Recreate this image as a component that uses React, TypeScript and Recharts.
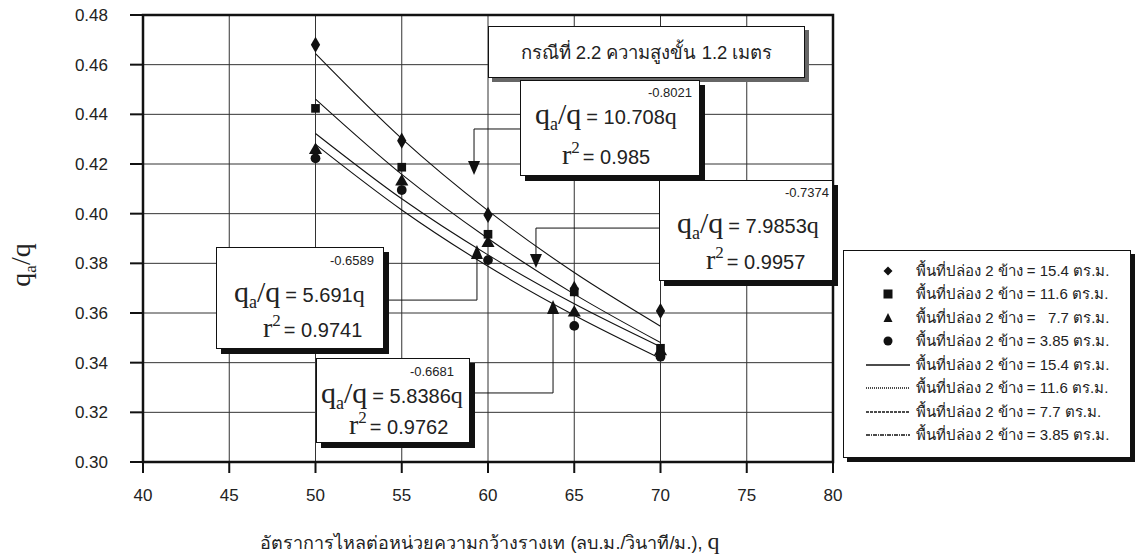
import React from "react";
import {
  CartesianGrid,
  ComposedChart,
  Line,
  ReferenceArea,
  ReferenceDot,
  ReferenceLine,
  Scatter,
  XAxis,
  YAxis,
  ZAxis,
} from "recharts";

// q (ลบ.ม./วินาที/ม.)
const Q = [50, 55, 60, 65, 70];

// measured points, one array per opening area
const P154 = [0.468, 0.4294, 0.3995, 0.3697, 0.3608];
const P116 = [0.4424, 0.4187, 0.3917, 0.3685, 0.3458];
const P77 = [0.4256, 0.4129, 0.3881, 0.3601, 0.3445];
const P385 = [0.4223, 0.4095, 0.3813, 0.3548, 0.3424];

// trend lines
const F154 = [0.4644, 0.4302, 0.4012, 0.3763, 0.3547];
const F116 = [0.4461, 0.4158, 0.39, 0.3676, 0.3481];
const F77 = [0.4323, 0.406, 0.3834, 0.3637, 0.3464];
const F385 = [0.4279, 0.4015, 0.3788, 0.3591, 0.3417];

const X_TICKS = [40, 45, 50, 55, 60, 65, 70, 75, 80];
const Y_TICKS = [0.3, 0.32, 0.34, 0.36, 0.38, 0.4, 0.42, 0.44, 0.46, 0.48];

// annotation connectors (data coords): box edge x, elbow x, horizontal y, arrow y
const CONN_BOX_X = [61.86, 69.91, 53.97, 58.96];
const CONN_ELBOW_X = [59.19, 62.78, 59.36, 63.77];
const CONN_Y = [0.4341, 0.3942, 0.3652, 0.3278];
const ARROW_Y = [0.4184, 0.3809, 0.3846, 0.3624];
const ARROW_DIR = ["down", "down", "up", "up"];

// fitted equations shown in the boxes
const EQ_COEF = ["10.708", "7.9853", "5.691", "5.8386"];
const EQ_EXP = ["-0.8021", "-0.7374", "-0.6589", "-0.6681"];
const EQ_R2 = ["0.985", "0.9957", "0.9741", "0.9762"];

const LEGEND_LABELS = [
  "พื้นที่ปล่อง 2 ข้าง = 15.4 ตร.ม.",
  "พื้นที่ปล่อง 2 ข้าง = 11.6 ตร.ม.",
  "พื้นที่ปล่อง 2 ข้าง =   7.7 ตร.ม.",
  "พื้นที่ปล่อง 2 ข้าง = 3.85 ตร.ม.",
  "พื้นที่ปล่อง 2 ข้าง = 15.4 ตร.ม.",
  "พื้นที่ปล่อง 2 ข้าง = 11.6 ตร.ม.",
  "พื้นที่ปล่อง 2 ข้าง = 7.7 ตร.ม.",
  "พื้นที่ปล่อง 2 ข้าง = 3.85 ตร.ม.",
];

const rows = Q.map((q, i) => ({
  q,
  p154: P154[i],
  p116: P116[i],
  p77: P77[i],
  p385: P385[i],
  f154: F154[i],
  f116: F116[i],
  f77: F77[i],
  f385: F385[i],
}));

const INK = "#111";
const TEXT = "#222";
const SANS = "'Liberation Sans', Arial, Helvetica, sans-serif";
const SERIF = "'Liberation Serif', 'Times New Roman', serif";

// box geometry (px) and text placement inside each box
const BOXES = [
  { left: 520, top: 80, w: 180, h: 96, expX: 172, expY: 17, eqX: 15, eqY: 44, rX: 42, rY: 84 },
  { left: 659, top: 180, w: 174, h: 101, expX: 170, expY: 17, eqX: 18, eqY: 53, rX: 47, rY: 89 },
  { left: 216, top: 247, w: 168, h: 102, expX: 158, expY: 18, eqX: 18, eqY: 55, rX: 47, rY: 90 },
  { left: 316, top: 358, w: 154, h: 85, expX: 138, expY: 18, eqX: 5, eqY: 45, rX: 33, rY: 76 },
];

function Arrow(props: any) {
  const { cx, cy, dir } = props;
  const w = 6;
  const h = 7;
  const d =
    dir === "down"
      ? `M${cx - w},${cy - h} L${cx + w},${cy - h} L${cx},${cy + h} Z`
      : `M${cx - w},${cy + h} L${cx + w},${cy + h} L${cx},${cy - h} Z`;
  return <path d={d} fill={INK} />;
}

function EqBox({ i }: { i: number }) {
  const b = BOXES[i];
  return (
    <div
      style={{
        position: "absolute",
        left: b.left,
        top: b.top,
        width: b.w,
        height: b.h,
        background: "#fff",
        border: `1px solid ${INK}`,
        boxShadow: `5px 5px 0 ${INK}`,
        boxSizing: "border-box",
      }}
    >
      <svg width={b.w} height={b.h} style={{ position: "absolute", left: -1, top: -1 }}>
        <text x={b.expX} y={b.expY} textAnchor="end" fontFamily={SANS} fontSize={13} fill={TEXT}>
          {EQ_EXP[i]}
        </text>
        <text x={b.eqX} y={b.eqY} fill={TEXT}>
          <tspan fontFamily={SERIF} fontSize={30}>q</tspan>
          <tspan fontFamily={SERIF} fontSize={18} dy={6}>a</tspan>
          <tspan fontFamily={SERIF} fontSize={30} dy={-6}>/q</tspan>
          <tspan fontFamily={SANS} fontSize={20} dx={5}>= {EQ_COEF[i]}</tspan>
          <tspan fontFamily={SERIF} fontSize={24}>q</tspan>
        </text>
        <text x={b.rX} y={b.rY} fill={TEXT}>
          <tspan fontFamily={SERIF} fontSize={28}>r</tspan>
          <tspan fontFamily={SERIF} fontSize={17} dy={-11}>2</tspan>
          <tspan fontFamily={SANS} fontSize={20} dy={11} dx={3}>= {EQ_R2[i]}</tspan>
        </text>
      </svg>
    </div>
  );
}

function LegendIcon({ i }: { i: number }) {
  const c = 22;
  const m = 9;
  if (i === 0) return <svg width={44} height={18}><path d={`M${c},${m - 4.5} L${c + 4.5},${m} L${c},${m + 4.5} L${c - 4.5},${m} Z`} fill={INK} /></svg>;
  if (i === 1) return <svg width={44} height={18}><rect x={c - 4.5} y={m - 4.5} width={9} height={9} fill={INK} /></svg>;
  if (i === 2) return <svg width={44} height={18}><path d={`M${c - 4.5},${m + 4} L${c + 4.5},${m + 4} L${c},${m - 5} Z`} fill={INK} /></svg>;
  if (i === 3) return <svg width={44} height={18}><circle cx={c} cy={m} r={4.5} fill={INK} /></svg>;
  const dash = ["", "1 1", "3 1", "4 1 1 1"][i - 4];
  return (
    <svg width={44} height={18}>
      <line x1={0} x2={44} y1={m} y2={m} stroke={INK} strokeWidth={i === 4 ? 1.6 : 1.3} strokeDasharray={dash} />
    </svg>
  );
}

export default function App() {
  return (
    <div
      style={{
        position: "fixed",
        left: 0,
        top: 0,
        width: 1140,
        height: 556,
        background: "#fff",
        overflow: "hidden",
      }}
    >
      <ComposedChart
        width={1140}
        height={556}
        data={rows}
        margin={{ top: 15, right: 307, left: 0, bottom: 0 }}
      >
        <CartesianGrid stroke="#333" strokeWidth={1} />
        <XAxis
          dataKey="q"
          type="number"
          domain={[40, 80]}
          ticks={X_TICKS}
          height={94}
          axisLine={false}
          tickSize={11}
          tickLine={{ stroke: INK, strokeWidth: 2 }}
          tickMargin={16}
          tick={{ fill: TEXT, fontSize: 17, fontFamily: SANS }}
          allowDataOverflow
        />
        <YAxis
          type="number"
          domain={[0.3, 0.48]}
          ticks={Y_TICKS}
          width={143}
          axisLine={false}
          tickSize={13}
          tickLine={{ stroke: INK, strokeWidth: 2 }}
          tickMargin={22}
          tickFormatter={(v: number) => v.toFixed(2)}
          tick={{ fill: TEXT, fontSize: 17, fontFamily: SANS }}
          allowDataOverflow
        />
        <ZAxis range={[75, 75]} />
        <ReferenceArea
          x1={40}
          x2={80}
          y1={0.3}
          y2={0.48}
          fill="none"
          stroke={INK}
          strokeWidth={2.5}
          ifOverflow="visible"
        />
        <Line dataKey="f154" type="monotone" stroke={INK} strokeWidth={1.1} dot={false} isAnimationActive={false} />
        <Line dataKey="f116" type="monotone" stroke={INK} strokeWidth={1.1} dot={false} isAnimationActive={false} />
        <Line dataKey="f77" type="monotone" stroke={INK} strokeWidth={1.1} dot={false} isAnimationActive={false} />
        <Line dataKey="f385" type="monotone" stroke={INK} strokeWidth={1.1} dot={false} isAnimationActive={false} />
        <Scatter dataKey="p154" shape="diamond" fill={INK} isAnimationActive={false} />
        <Scatter dataKey="p116" shape="square" fill={INK} isAnimationActive={false} />
        <Scatter dataKey="p77" shape="triangle" fill={INK} isAnimationActive={false} />
        <Scatter dataKey="p385" shape="circle" fill={INK} isAnimationActive={false} />
        {CONN_Y.map((y, i) => (
          <ReferenceLine
            key={`h${i}`}
            segment={[
              { x: CONN_BOX_X[i], y },
              { x: CONN_ELBOW_X[i], y },
            ]}
            stroke={INK}
            strokeWidth={1}
          />
        ))}
        {CONN_Y.map((y, i) => (
          <ReferenceLine
            key={`v${i}`}
            segment={[
              { x: CONN_ELBOW_X[i], y },
              { x: CONN_ELBOW_X[i], y: ARROW_Y[i] },
            ]}
            stroke={INK}
            strokeWidth={1}
          />
        ))}
        {ARROW_Y.map((y, i) => (
          <ReferenceDot
            key={`a${i}`}
            x={CONN_ELBOW_X[i]}
            y={y}
            r={6}
            shape={(p: any) => <Arrow {...p} dir={ARROW_DIR[i]} />}
          />
        ))}
      </ComposedChart>

      {/* title box */}
      <div
        style={{
          position: "absolute",
          left: 488,
          top: 26,
          width: 317,
          height: 52,
          background: "#fff",
          border: `1px solid ${INK}`,
          boxShadow: "4px 4px 0 #666",
          boxSizing: "border-box",
          display: "flex",
          alignItems: "center",
          justifyContent: "center",
          fontFamily: SANS,
          fontSize: 18.5,
          color: TEXT,
        }}
      >
        กรณีที่ 2.2 ความสูงขั้น 1.2 เมตร
      </div>

      {BOXES.map((_, i) => (
        <EqBox key={i} i={i} />
      ))}

      {/* legend */}
      <div
        style={{
          position: "absolute",
          left: 843,
          top: 250,
          width: 288,
          height: 208,
          background: "#fff",
          border: `1px solid ${INK}`,
          boxShadow: `4px 4px 0 ${INK}`,
          boxSizing: "border-box",
          paddingTop: 8,
        }}
      >
        {LEGEND_LABELS.map((label, i) => (
          <div
            key={i}
            style={{
              display: "flex",
              alignItems: "center",
              height: 23.5,
              paddingLeft: 22,
            }}
          >
            <LegendIcon i={i} />
            <span
              style={{
                marginLeft: 6,
                fontFamily: SANS,
                fontSize: 15,
                color: TEXT,
                whiteSpace: "pre",
              }}
            >
              {label}
            </span>
          </div>
        ))}
      </div>

      {/* axis titles */}
      <svg width={50} height={140} style={{ position: "absolute", left: 0, top: 190 }}>
        <text transform="translate(30,75) rotate(-90)" textAnchor="middle" fill={TEXT}>
          <tspan fontFamily={SERIF} fontSize={28}>q</tspan>
          <tspan fontFamily={SERIF} fontSize={17} dy={6}>a</tspan>
          <tspan fontFamily={SERIF} fontSize={28} dy={-6}>/q</tspan>
        </text>
      </svg>
      <div
        style={{
          position: "absolute",
          left: 490,
          top: 542,
          transform: "translate(-50%, -50%)",
          whiteSpace: "nowrap",
          fontFamily: SANS,
          fontSize: 18,
          color: TEXT,
        }}
      >
        อัตราการไหลต่อหน่วยความกว้างรางเท (ลบ.ม./วินาที/ม.),{" "}
        <span style={{ fontFamily: SERIF, fontSize: 24 }}>q</span>
      </div>
    </div>
  );
}
